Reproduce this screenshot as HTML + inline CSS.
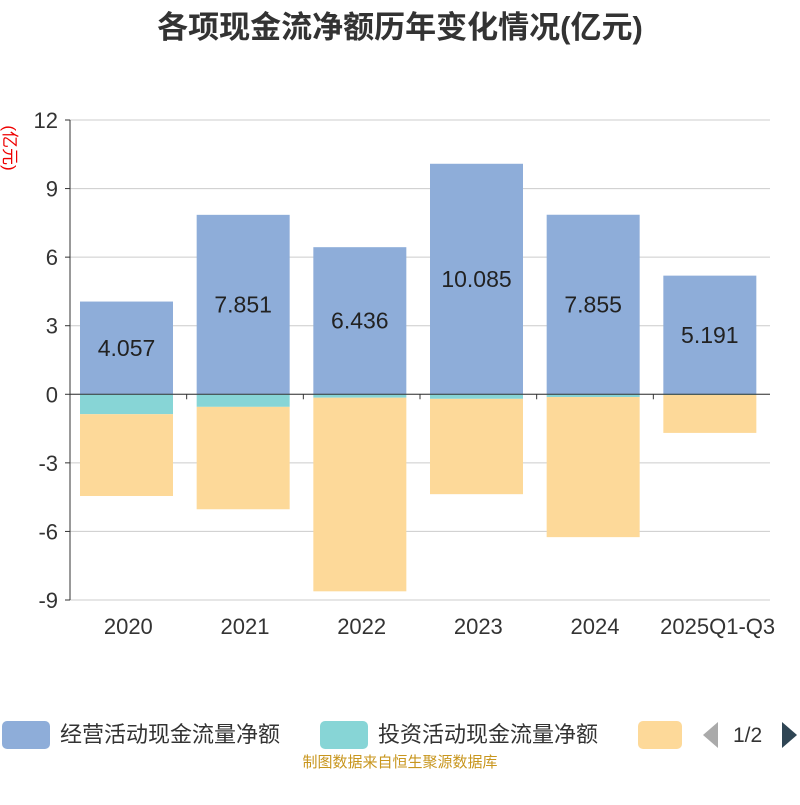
<!DOCTYPE html>
<html><head><meta charset="utf-8"><style>
body{margin:0;background:#fff;width:800px;height:800px;overflow:hidden;font-family:"Liberation Sans","Noto Sans CJK SC",sans-serif}
</style></head><body>
<svg id="c" width="800" height="800" style="font-family:'Liberation Sans','Noto Sans CJK SC',sans-serif">
<text x="400" y="38" text-anchor="middle" font-size="31" font-weight="bold" fill="#333">各项现金流净额历年变化情况(亿元)</text>
<text transform="translate(4,148) rotate(90)" text-anchor="middle" font-size="17" fill="#e00">(亿元)</text>
<g id="grid"></g><g id="bars"></g><g id="axes"></g>
<g>
<rect x="2" y="721" width="48" height="28" rx="5" fill="#8eadd9"/>
<text x="60" y="742" font-size="22" fill="#333">经营活动现金流量净额</text>
<rect x="320" y="721" width="48" height="28" rx="5" fill="#87d5d6"/>
<text x="378" y="742" font-size="22" fill="#333">投资活动现金流量净额</text>
<rect x="638" y="721" width="44" height="28" rx="5" fill="#fdd999"/>
<polygon points="718,722 718,748 703,735" fill="#aaa"/>
<text x="733" y="742" font-size="21" fill="#333">1/2</text>
<polygon points="782,722 782,748 797,735" fill="#2f4554"/>
</g>
<text x="400" y="767" text-anchor="middle" font-size="15" fill="#c8961e">制图数据来自恒生聚源数据库</text>
</svg>
<script>
const categories=["2020","2021","2022","2023","2024","2025Q1-Q3"];
const operating=[4.057,7.851,6.436,10.085,7.855,5.191];
const investing=[-0.87,-0.55,-0.15,-0.2,-0.12,-0.03];
const financing=[-3.58,-4.48,-8.47,-4.17,-6.13,-1.66];
const yTicks=[12,9,6,3,0,-3,-6,-9];
const NS="http://www.w3.org/2000/svg";
const L=70,R=770,T=120,B=600,ymax=12,ymin=-9;
const y=v=>T+(ymax-v)/(ymax-ymin)*(B-T);
const bw=(R-L)/categories.length;
const x=i=>L+bw*i;
function mk(tag,attrs,parent,txt){const e=document.createElementNS(NS,tag);for(const k in attrs)e.setAttribute(k,attrs[k]);if(txt!==undefined)e.textContent=txt;document.getElementById(parent).appendChild(e);return e;}
yTicks.forEach(t=>{
 const g=mk('line',{x1:L,x2:R,y1:y(t),y2:y(t),stroke:'#ccc','stroke-width':1},'grid');
 
 
 const tl=mk('text',{x:L-12,y:y(t)+8,'text-anchor':'end','font-size':22,fill:'#333'},'axes',String(t));
 
 
 const tk=mk('line',{x1:L-5,x2:L,y1:y(t),y2:y(t),stroke:'#333'},'axes');
 
 
});
const ya=mk('line',{x1:L,x2:L,y1:T,y2:B,stroke:'#333'},'axes');


const xa=mk('line',{x1:L,x2:R,y1:y(0),y2:y(0),stroke:'#333'},'axes');


const pad=10,w=93;
categories.forEach((c,i)=>{
 const bx=x(i)+pad;
 const r1=mk('rect',{x:bx,y:y(operating[i]),width:w,height:y(0)-y(operating[i]),fill:'#8eadd9'},'bars');
 
 
 const r2=mk('rect',{x:bx,y:y(0),width:w,height:y(investing[i])-y(0),fill:'#87d5d6'},'bars');
 
 
 const r3=mk('rect',{x:bx,y:y(investing[i]),width:w,height:y(investing[i]+financing[i])-y(investing[i]),fill:'#fdd999'},'bars');
 
 
 const lb=mk('text',{x:bx+w/2,y:(y(operating[i])+y(0))/2+8,'text-anchor':'middle','font-size':23,fill:'#222'},'bars',operating[i].toFixed(3));
 
 
 const xl=mk('text',{x:x(i)+bw/2+(i==5?6:0),y:634,'text-anchor':'middle','font-size':22,fill:'#333'},'axes',c);
 
 
 const xt=mk('line',{x1:x(i),x2:x(i),y1:y(0),y2:y(0)+5,stroke:'#333'},'axes');
 
 
});
</script>
</body></html>
